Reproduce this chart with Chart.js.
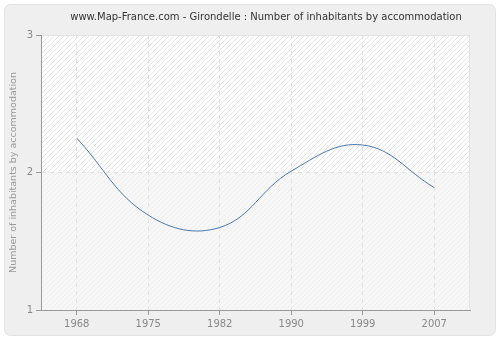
<!DOCTYPE html>
<html>
<head>
<meta charset="utf-8">
<script src="https://cdn.jsdelivr.net/npm/chart.js@4"></script>
<style>
  html, body { margin: 0; padding: 0; background: #ffffff; }
  #wrap { width: 500px; height: 340px; }
</style>
</head>
<body>
<div id="wrap"><canvas id="inhabChart" width="500" height="340"></canvas></div>
<script>
// chart data
const years = ["1968", "1975", "1982", "1990", "1999", "2007"];
const inhabitants = [2.25, 1.69, 1.60, 2.01, 2.20, 1.89];
const yTicks = [1, 2, 3];
const chartTitle = "www.Map-France.com - Girondelle : Number of inhabitants by accommodation";

document.addEventListener("DOMContentLoaded", function () {
    const ctx = document.getElementById("inhabChart").getContext("2d");

    // hatched pattern for the plot background
    function makeHatch(bg, line) {
        const p = document.createElement("canvas");
        p.width = 5;
        p.height = 5;
        const pc = p.getContext("2d");
        pc.fillStyle = bg;
        pc.fillRect(0, 0, 5, 5);
        pc.strokeStyle = line;
        pc.lineWidth = 1;
        pc.beginPath();
        pc.moveTo(0, 5);
        pc.lineTo(5, 0);
        pc.moveTo(-3, 3);
        pc.lineTo(3, -3);
        pc.moveTo(2, 8);
        pc.lineTo(8, 2);
        pc.stroke();
        return ctx.createPattern(p, "repeat");
    }
    const hatchTop = makeHatch("#ffffff", "#e6e6e6");
    const hatchBottom = makeHatch("#f7f7f7", "#eeeeee");

    const backdrop = {
        id: "backdrop",
        beforeDraw(chart) {
            const c = chart.ctx;
            const a = chart.chartArea;
            c.save();
            c.fillStyle = "#ffffff";
            c.fillRect(0, 0, chart.width, chart.height);
            // outer panel
            c.beginPath();
            c.roundRect(4.5, 4.5, 491, 331, 6);
            c.fillStyle = "#efefef";
            c.fill();
            c.strokeStyle = "#e3e3e3";
            c.lineWidth = 1;
            c.stroke();
            // plot area
            const yMid = chart.scales.y.getPixelForValue(2);
            c.fillStyle = hatchTop;
            c.fillRect(a.left, a.top, a.right - a.left, yMid - a.top);
            c.fillStyle = hatchBottom;
            c.fillRect(a.left, yMid, a.right - a.left, a.bottom - yMid);
            c.strokeStyle = "#e4e4e4";
            c.beginPath();
            c.moveTo(a.left, a.top + 0.5);
            c.lineTo(a.right - 0.5, a.top + 0.5);
            c.lineTo(a.right - 0.5, a.bottom);
            c.stroke();
            // title
            c.fillStyle = "#333333";
            c.font = "10px 'DejaVu Sans'";
            c.textAlign = "center";
            c.textBaseline = "middle";
            c.fillText(chartTitle, 266, 17);
            c.restore();
        }
    };

    new Chart(ctx, {
        type: "line",
        data: {
            labels: years,
            datasets: [{
                label: "Inhabitants",
                data: inhabitants,
                borderColor: "#4a78ab",
                borderWidth: 1,
                pointRadius: 0,
                fill: false,
                tension: 0.4
            }]
        },
        options: {
            responsive: false,
            animation: false,
            layout: {
                padding: { left: 0, right: 30, top: 35, bottom: 0 }
            },
            plugins: {
                legend: { display: false },
                tooltip: { enabled: false },
                title: { display: false }
            },
            scales: {
                x: {
                    type: "category",
                    offset: true,
                    grid: {
                        offset: false,
                        color: "#e2e2e2",
                        tickColor: "#999999",
                        tickLength: 5,
                        tickBorderDash: []
                    },
                    border: { display: true, color: "#999999", width: 1, dash: [4, 4] },
                    ticks: {
                        color: "#888888",
                        font: { family: "DejaVu Sans", size: 10 },
                        padding: 3,
                        maxRotation: 0
                    },
                    afterFit: s => { s.height = 30; }
                },
                y: {
                    min: 1,
                    max: 3,
                    afterBuildTicks: s => { s.ticks = yTicks.map(v => ({ value: v })); },
                    grid: {
                        color: "#e2e2e2",
                        tickColor: "#999999",
                        tickLength: 5,
                        tickBorderDash: []
                    },
                    border: { display: true, color: "#999999", width: 1, dash: [4, 4] },
                    ticks: {
                        color: "#888888",
                        font: { family: "DejaVu Sans", size: 10 },
                        padding: 3
                    },
                    title: {
                        display: true,
                        text: "Number of inhabitants by accommodation",
                        color: "#999999",
                        font: { family: "DejaVu Sans", size: 9.5 },
                        padding: { top: 8, bottom: 4 }
                    },
                    afterFit: s => { s.width = 41; }
                }
            }
        },
        plugins: [backdrop]
    });
});
</script>
</body>
</html>
